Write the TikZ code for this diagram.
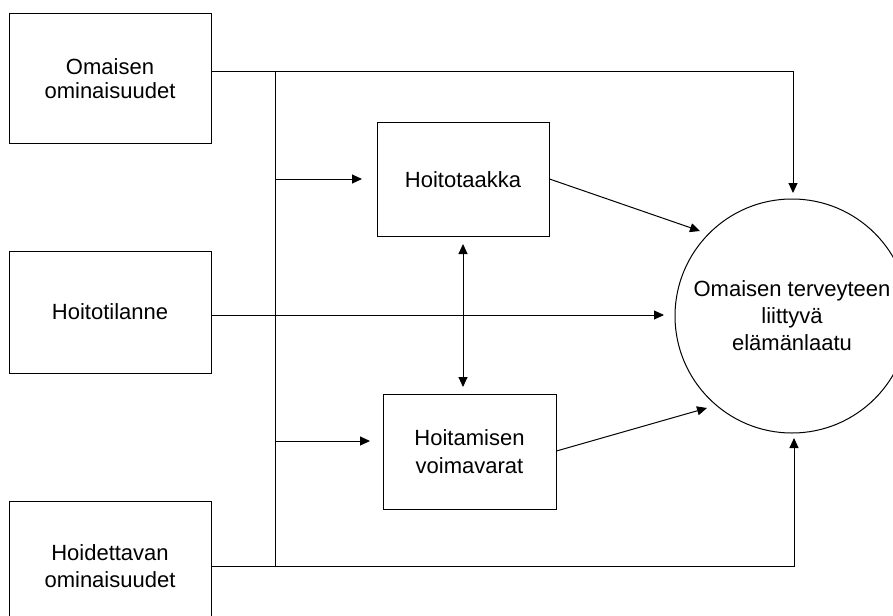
\documentclass[tikz,border=0pt]{standalone}
\usepackage{fontspec}
\setmainfont{Liberation Sans}
\usetikzlibrary{arrows.meta}
\begin{document}
\begin{tikzpicture}[x=1pt,y=-1pt,
  box/.style={draw,line width=1pt,inner sep=0pt,align=center,
    font=\fontsize{22}{27.5}\selectfont},
  conn/.style={line width=1pt},
  arr/.style={conn,-{Triangle[length=10pt,width=9pt]}},
  darr/.style={conn,{Triangle[length=10pt,width=9pt]}-{Triangle[length=10pt,width=9pt]}}
]
\useasboundingbox (0,0) rectangle (893,615);
% left boxes
\node[box,minimum width=202pt,minimum height=129pt,
  font=\fontsize{22}{23.5}\selectfont] (b1) at (110,78.5) {Omaisen\\ominaisuudet};
\node[box,minimum width=202pt,minimum height=122pt] (b2) at (110,312) {Hoitotilanne};
\node[box,minimum width=202pt,minimum height=129pt] (b3) at (110,566) {Hoidettavan\\ominaisuudet};
% middle boxes
\node[box,minimum width=172pt,minimum height=114pt] (ht) at (463,179.5) {Hoitotaakka};
\node[box,minimum width=173pt,minimum height=115pt] (hv) at (469.5,451.5) {Hoitamisen\\voimavarat};
% circle
\node[draw,circle,line width=1pt,inner sep=0pt,minimum size=234pt,align=center,
  font=\fontsize{22}{27}\selectfont] (c) at (792,316) {Omaisen terveyteen\\liittyvä\\elämänlaatu};
% coordinates
\coordinate (btop) at (275,72);
\coordinate (bbot) at (275,566);
\coordinate (ctop) at (793,72);
\coordinate (ctopt) at (793,193);
\coordinate (cbot) at (794,566);
\coordinate (cbott) at (794,438);
\coordinate (a1) at (275,179);
\coordinate (a1t) at (362,179);
\coordinate (a2) at (275,441);
\coordinate (a2t) at (370,441);
\coordinate (mid) at (664,315);
\coordinate (httip) at (700,231);
\coordinate (hvtip) at (707,408);
\coordinate (d1) at (463,244);
\coordinate (d2) at (463,387);
% connectors
\draw[conn] (btop) -- (bbot);
\draw[arr] (b1.east |- btop) -- (ctop) -- (ctopt);
\draw[arr] (b3.east |- bbot) -- (cbot) -- (cbott);
\draw[arr] (b2.east |- mid) -- (mid);
\draw[arr] (a1) -- (a1t);
\draw[arr] (a2) -- (a2t);
\draw[arr] (ht.east |- a1) -- (httip);
\draw[arr] (hv.east |- 0,451) -- (hvtip);
\draw[darr] (d1) -- (d2);
\end{tikzpicture}
\end{document}
